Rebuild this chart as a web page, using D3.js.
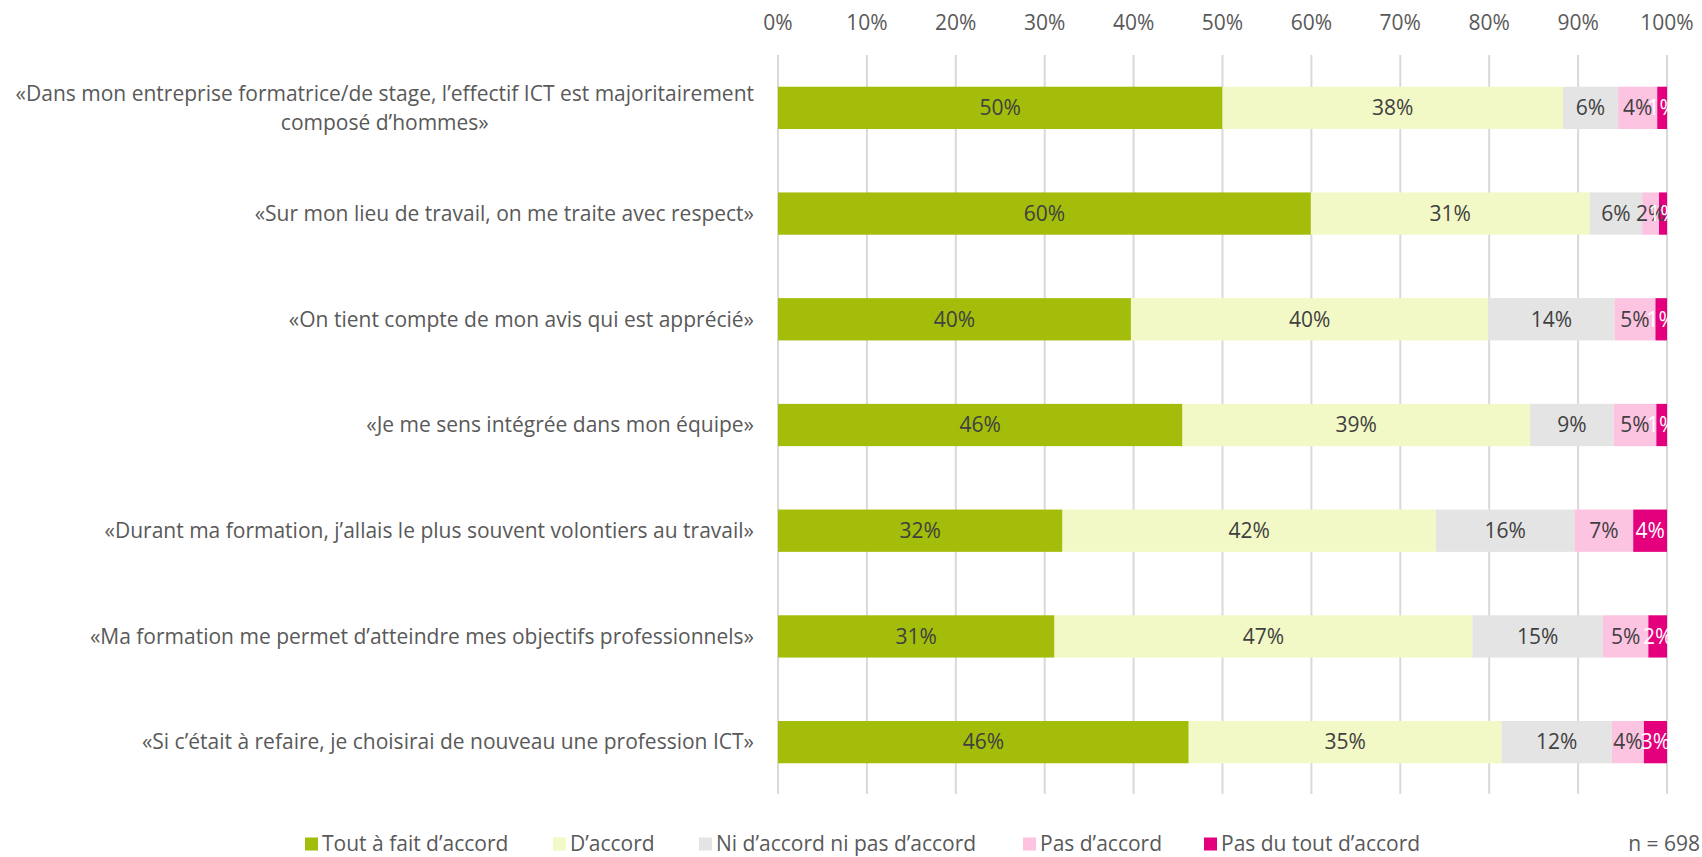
<!DOCTYPE html>
<html>
<head>
<meta charset="utf-8">
<script src="https://cdn.jsdelivr.net/npm/d3@7"></script>
<style>
  body { margin: 0; background: #fff; }
  svg { display: block; font-family: "Open Sans", Lato, sans-serif; }
</style>
</head>
<body>
<svg id="chart"></svg>
<script>
//**** DATA ****//
const statements = [
  "«Dans mon entreprise formatrice/de stage, l’effectif ICT est majoritairement|composé d’hommes»",
  "«Sur mon lieu de travail, on me traite avec respect»",
  "«On tient compte de mon avis qui est apprécié»",
  "«Je me sens intégrée dans mon équipe»",
  "«Durant ma formation, j’allais le plus souvent volontiers au travail»",
  "«Ma formation me permet d’atteindre mes objectifs professionnels»",
  "«Si c’était à refaire, je choisirai de nouveau une profession ICT»"
];
const answers = ["Tout à fait d’accord", "D’accord", "Ni d’accord ni pas d’accord", "Pas d’accord", "Pas du tout d’accord"];

// share of answers (%) per statement, same order as statements
const toutAFait = [50.0, 60.0, 39.7, 45.5, 32.0, 31.1, 46.2];
const daccord   = [38.3, 31.4, 40.2, 39.1, 42.0, 47.0, 35.2];
const ni        = [ 6.2,  5.9, 14.2,  9.4, 15.6, 14.7, 12.4];
const pas       = [ 4.4,  1.9,  4.6,  4.8,  6.6,  5.1,  3.6];
const pasDuTout = [ 1.1,  0.9,  1.3,  1.2,  3.8,  2.1,  2.6];

const ticks = [0, 10, 20, 30, 40, 50, 60, 70, 80, 90, 100];
const sampleNote = "n = 698";

const colors = ["#A3BD0A", "#F3F9C6", "#E4E4E4", "#FDC4E2", "#E4007C"];
const labelColors = ["#404040", "#404040", "#404040", "#404040", "#ffffff"];

//**** CHART ****//
const width = 1702, height = 857;
const fontSize = "21px";
const svg = d3.select("#chart").attr("width", width).attr("height", height);

const rows = statements.map((s, i) => ({
  statement: s,
  values: [toutAFait[i], daccord[i], ni[i], pas[i], pasDuTout[i]]
}));
rows.forEach(r => {
  const tot = d3.sum(r.values);
  r.values.forEach((v, k) => r[answers[k]] = v / tot * 100);
});

const x = d3.scaleLinear().domain([0, 100]).range([778, 1667]);
const y = d3.scaleBand()
  .domain(statements)
  .range([55, 795])
  .paddingInner(0.6)
  .paddingOuter(0.3);

// gridlines
svg.append("g")
  .selectAll("line")
  .data(ticks)
  .join("line")
  .attr("x1", d => x(d)).attr("x2", d => x(d))
  .attr("y1", 55).attr("y2", 794)
  .attr("stroke", "#D9D9D9")
  .attr("stroke-width", 2);

// top tick labels
svg.append("g")
  .selectAll("text")
  .data(ticks)
  .join("text")
  .attr("x", d => x(d))
  .attr("y", 23)
  .attr("dy", "0.35em")
  .attr("text-anchor", "middle")
  .attr("fill", "#595959")
  .style("font-size", fontSize)
  .text(d => d + "%");

const stacked = d3.stack().keys(answers)(rows);

const layers = svg.append("g")
  .selectAll("g")
  .data(stacked)
  .join("g")
  .attr("fill", (d, i) => colors[i]);

layers.selectAll("rect")
  .data(d => d)
  .join("rect")
  .attr("x", d => x(d[0]))
  .attr("width", d => x(d[1]) - x(d[0]))
  .attr("y", d => y(d.data.statement))
  .attr("height", y.bandwidth());

// value labels
stacked.forEach((layer, i) => {
  svg.append("g")
    .selectAll("text")
    .data(layer)
    .join("text")
    .attr("x", d => (x(d[0]) + x(d[1])) / 2)
    .attr("y", d => y(d.data.statement) + y.bandwidth() / 2)
    .attr("dy", "0.35em")
    .attr("text-anchor", "middle")
    .attr("fill", labelColors[i])
    .style("font-size", fontSize)
    .text(d => Math.round(d[1] - d[0]) + "%");
});

// category labels (multi-line ones are centred on the widest line)
const labelRight = 754, lineH = 29;
statements.forEach(s => {
  const lines = s.split("|");
  const cy = y(s) + y.bandwidth() / 2;
  const t = svg.append("text")
    .attr("fill", "#595959")
    .style("font-size", fontSize);
  lines.forEach((l, k) => {
    t.append("tspan")
      .attr("y", cy + (k - (lines.length - 1) / 2) * lineH)
      .attr("dy", "0.35em")
      .text(l);
  });
  const spans = t.selectAll("tspan").nodes();
  const maxW = d3.max(spans, n => n.getComputedTextLength());
  t.attr("text-anchor", "middle");
  t.selectAll("tspan").attr("x", labelRight - maxW / 2);
});

// legend
const legendX = [305, 553, 699, 1023, 1204];
const legend = svg.append("g")
  .selectAll("g")
  .data(answers)
  .join("g")
  .attr("transform", (d, i) => `translate(${legendX[i]},844)`);
legend.append("rect")
  .attr("x", 0).attr("y", -6.5)
  .attr("width", 13).attr("height", 13)
  .attr("fill", (d, i) => colors[i]);
legend.append("text")
  .attr("x", 17)
  .attr("dy", "0.35em")
  .attr("fill", "#595959")
  .style("font-size", fontSize)
  .text(d => d);

svg.append("text")
  .attr("x", 1700).attr("y", 844)
  .attr("dy", "0.35em")
  .attr("text-anchor", "end")
  .attr("fill", "#595959")
  .style("font-size", fontSize)
  .text(sampleNote);
</script>
</body>
</html>
